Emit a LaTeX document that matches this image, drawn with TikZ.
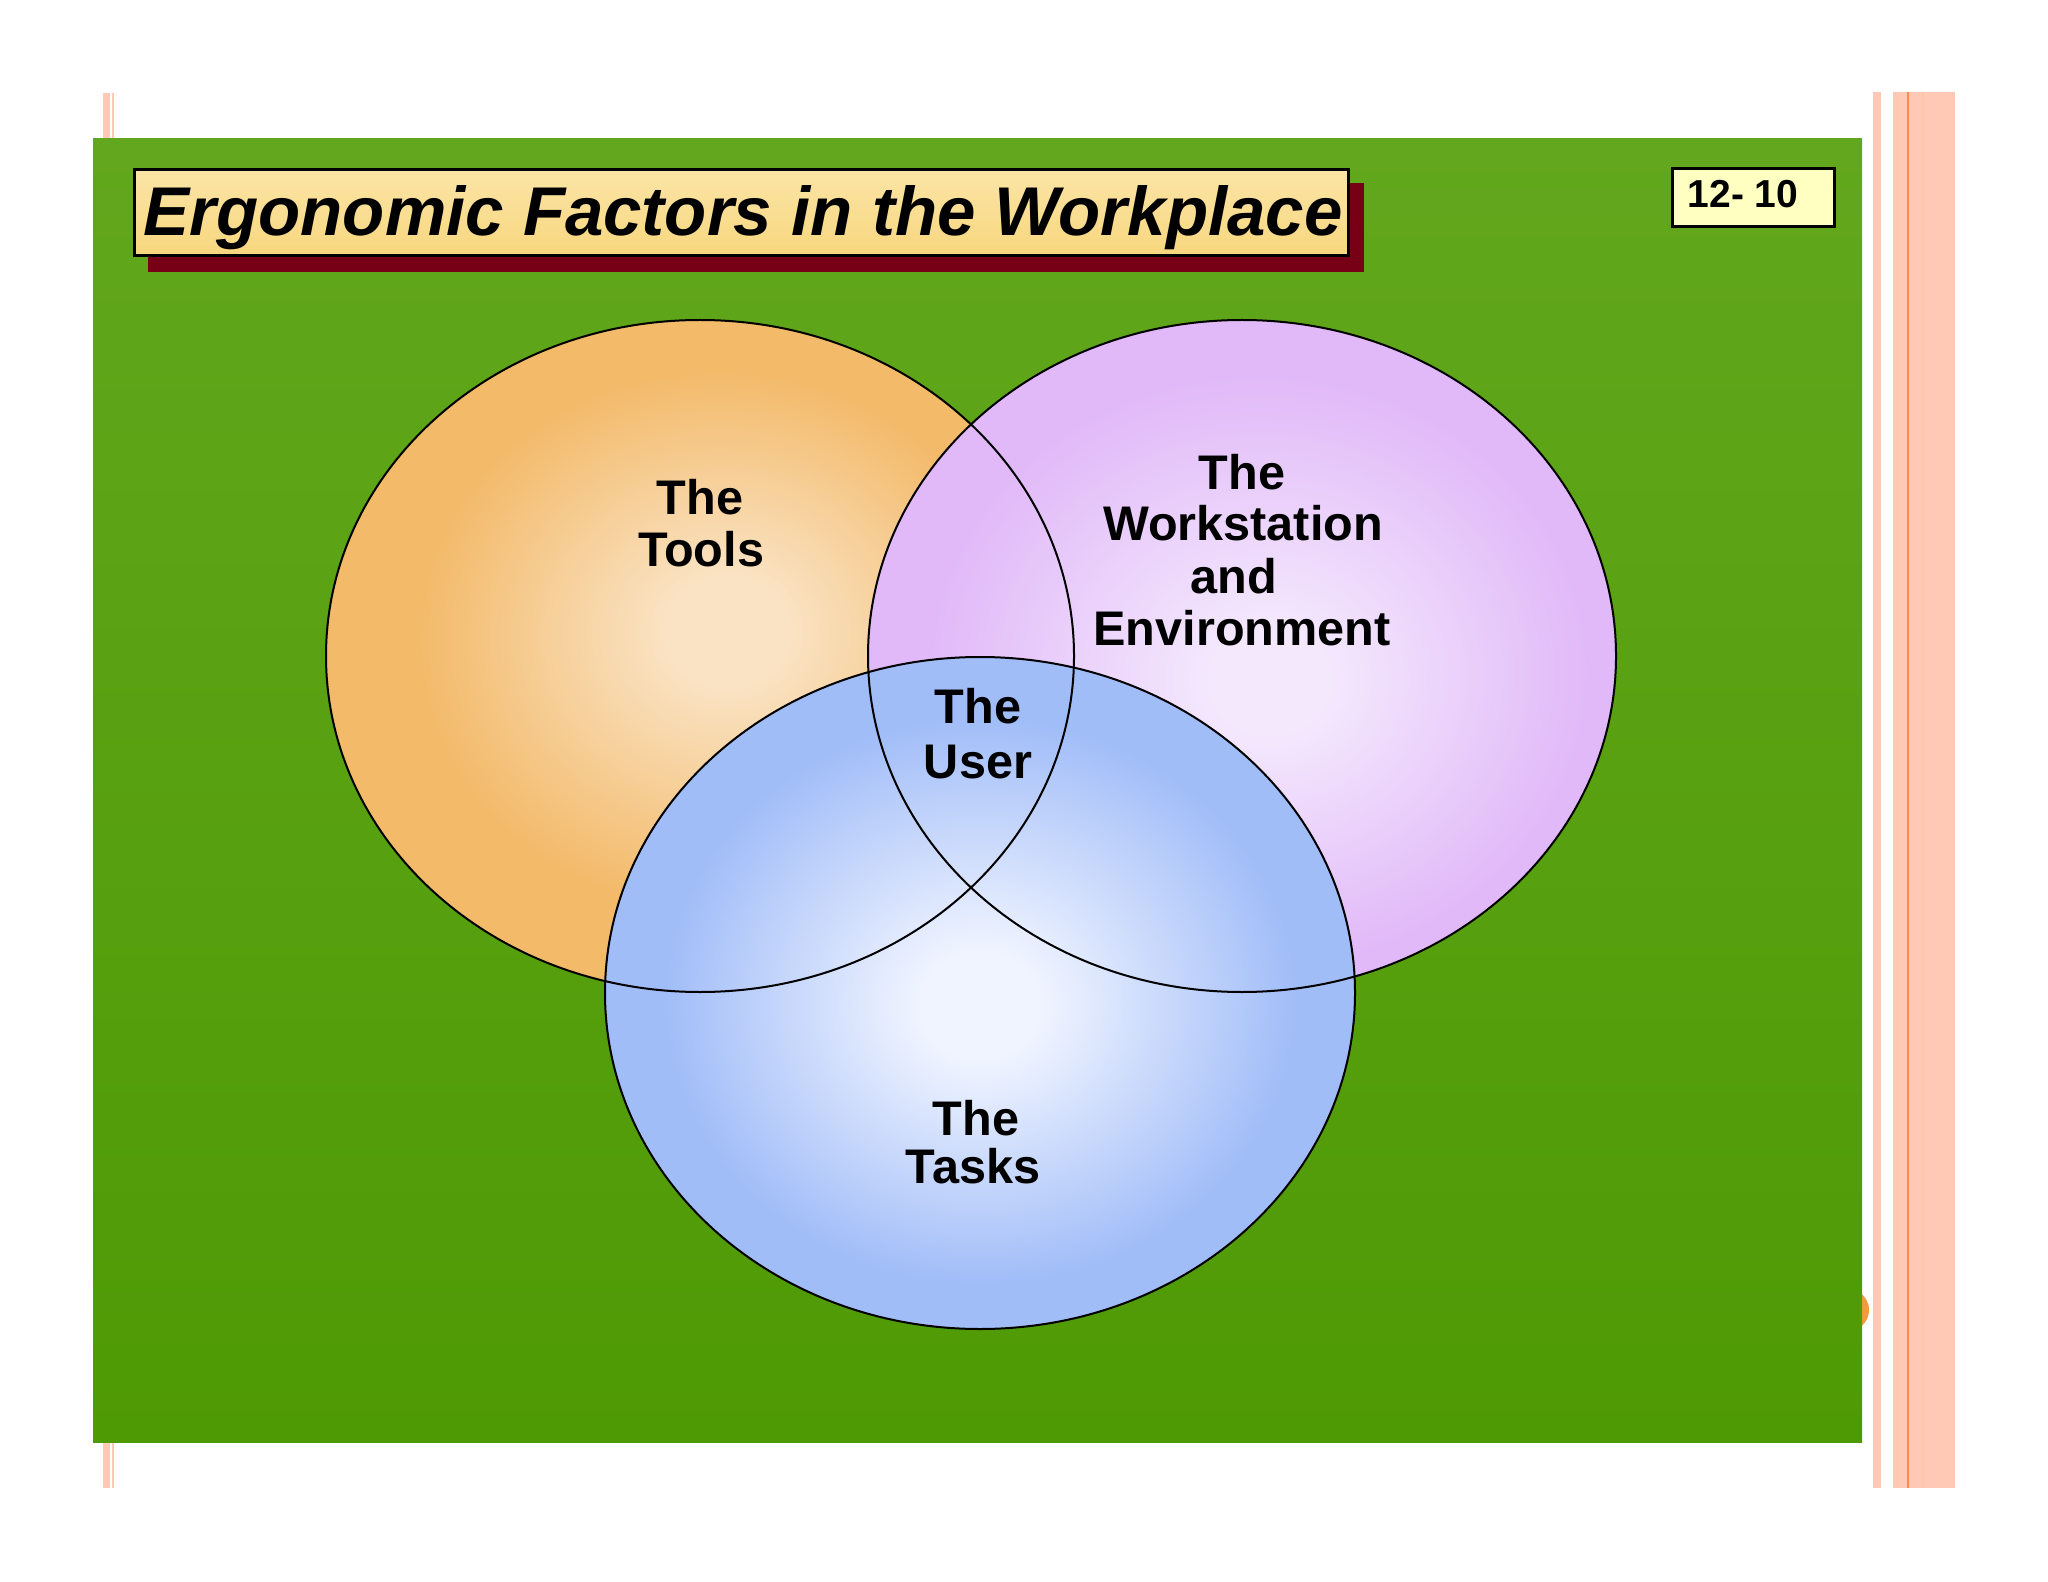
\documentclass[tikz,border=0pt]{standalone}
\usepackage{fontspec}
\setmainfont{Liberation Sans}
\definecolor{peach}{HTML}{FFC9B5}
\definecolor{peachline}{HTML}{FF8A4C}
\definecolor{gtop}{HTML}{62A71D}
\definecolor{gbot}{HTML}{4E9A04}
\definecolor{oin}{HTML}{FAE3C4}
\definecolor{oout}{HTML}{F3BA6A}
\definecolor{pin}{HTML}{F4E8FD}
\definecolor{pout}{HTML}{E1B9F8}
\definecolor{bin}{HTML}{F0F4FF}
\definecolor{bout}{HTML}{A1BDF8}
\definecolor{titlefill}{HTML}{FBE4A6}
\definecolor{titlebot}{HTML}{F7D77E}
\definecolor{shadowred}{HTML}{780016}
\definecolor{badgefill}{HTML}{FFFFC2}
\definecolor{blob}{HTML}{F49A3C}
\pgfdeclareradialshading{orangesh}{\pgfpoint{2bp}{2bp}}{color(0bp)=(oin); color(4bp)=(oin); color(20bp)=(oout); color(50bp)=(oout)}
\pgfdeclareradialshading{purplesh}{\pgfpoint{2bp}{-2bp}}{color(0bp)=(pin); color(4bp)=(pin); color(22bp)=(pout); color(50bp)=(pout)}
\pgfdeclareradialshading{bluesh}{\pgfpoint{0bp}{-1bp}}{color(0bp)=(bin); color(4bp)=(bin); color(21bp)=(bout); color(50bp)=(bout)}
\begin{document}
\begin{tikzpicture}[x=0.5pt,y=-0.5pt,
  lbl/.style={anchor=base,inner sep=0pt,font=\fontsize{24.3}{26}\selectfont\bfseries},
  outline/.style={draw=black,line width=1pt}]
\useasboundingbox (0,0) rectangle (2048,1582);
\fill[white] (0,0) rectangle (2048,1582);
% decorative stripes
\fill[peach] (103,93) rectangle (110,1488);
\fill[peach] (112,93) rectangle (114,1488);
\fill[peach] (1873,92) rectangle (1881,1488);
\fill[peach] (1893,92) rectangle (1955,1488);
\draw[peachline,line width=0.8pt] (1908,92) -- (1908,1488);
\draw[peachline!50,line width=0.8pt] (1923,92) -- (1923,1488);
\fill[blob] (1848,1310) circle (21);
% green slide
\shade[top color=gtop,bottom color=gbot] (93,139) rectangle (1862,1442);
% title
\fill[shadowred] (148,183) rectangle (1364,272);
\shade[top color=titlefill,bottom color=titlebot,draw=black,line width=1.5pt] (134,170) rectangle (1348,256);
\node[anchor=base,inner sep=0pt,font=\fontsize{34.5}{36}\selectfont\bfseries\itshape] (title) at (743,236) {Ergonomic Factors in the Workplace};
% badge
\draw[fill=badgefill,line width=1.5pt] (1672,169) rectangle (1834,227);
\node[anchor=base,inner sep=0pt,font=\fontsize{19.5}{22}\selectfont\bfseries] (badge) at (1743,208) {12- 10};
% circles
\shade[shading=orangesh] (700,656) ellipse [x radius=374, y radius=336];
\shade[shading=purplesh] (1242,656) ellipse [x radius=374, y radius=336];
\shade[shading=bluesh] (980,993) ellipse [x radius=375, y radius=336];
\draw[outline] (700,656) ellipse [x radius=374, y radius=336];
\draw[outline] (1242,656) ellipse [x radius=374, y radius=336];
\draw[outline] (980,993) ellipse [x radius=375, y radius=336];
% labels
\node[lbl] (tools1) at (700,515) {The};
\node[lbl] (tools2) at (701,567) {Tools};
\node[lbl] (ws1) at (1242,490) {The};
\node[lbl] (ws2) at (1243,541) {Workstation};
\node[lbl] (ws3) at (1234,594) {and};
\node[lbl] (ws4) at (1242,645) {Environment};
\node[lbl] (user1) at (978,723) {The};
\node[lbl] (user2) at (978,778) {User};
\node[lbl] (task1) at (976,1135) {The};
\node[lbl] (task2) at (973,1183) {Tasks};
\end{tikzpicture}
\end{document}
